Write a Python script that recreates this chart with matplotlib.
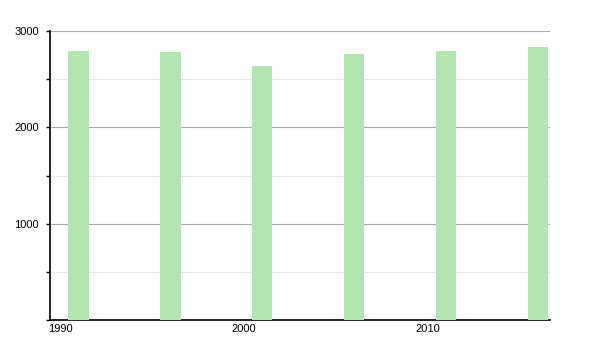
import matplotlib.pyplot as plt
from matplotlib.ticker import MultipleLocator
from matplotlib.transforms import ScaledTranslation

years = [1991, 1996, 2001, 2006, 2011, 2016]
population = [2792, 2782, 2637, 2761, 2792, 2834]
xticks = [1990, 2000, 2010]
yticks = [1000, 2000, 3000]

plt.rcParams["font.family"] = ["Liberation Sans", "DejaVu Sans"]

fig = plt.figure(figsize=(6, 3.5), dpi=100)
ax = fig.add_axes([50 / 600, 30 / 350, 500 / 600, 289 / 350])

ax.bar(years, population, width=1.1, align="edge", color="#b2e5b2", zorder=3)

ax.set_xlim(1990, 2017.2)
ax.set_ylim(0, 3000)
ax.set_xticks(xticks)
ax.set_xticklabels([str(y) for y in xticks], ha="left")
ax.set_yticks(yticks)
ax.yaxis.set_minor_locator(MultipleLocator(500))

ax.grid(axis="y", which="major", color="#aaaaaa", linewidth=0.8, zorder=0)
ax.grid(axis="y", which="minor", color="#e6e6e6", linewidth=0.8, zorder=0)

for s in ["top", "right"]:
    ax.spines[s].set_visible(False)
ax.spines["left"].set_linewidth(1.2)
ax.spines["bottom"].set_linewidth(1.2)

ax.tick_params(axis="y", which="both", length=3, width=1, labelsize=8, pad=5)
ax.tick_params(axis="x", length=0, labelsize=8, pad=3)

# nudge x labels a touch left
shift = ScaledTranslation(-2 / 100, 0, fig.dpi_scale_trans)
for lbl in ax.get_xticklabels():
    lbl.set_transform(lbl.get_transform() + shift)

fig.savefig("out.png", dpi=100)
